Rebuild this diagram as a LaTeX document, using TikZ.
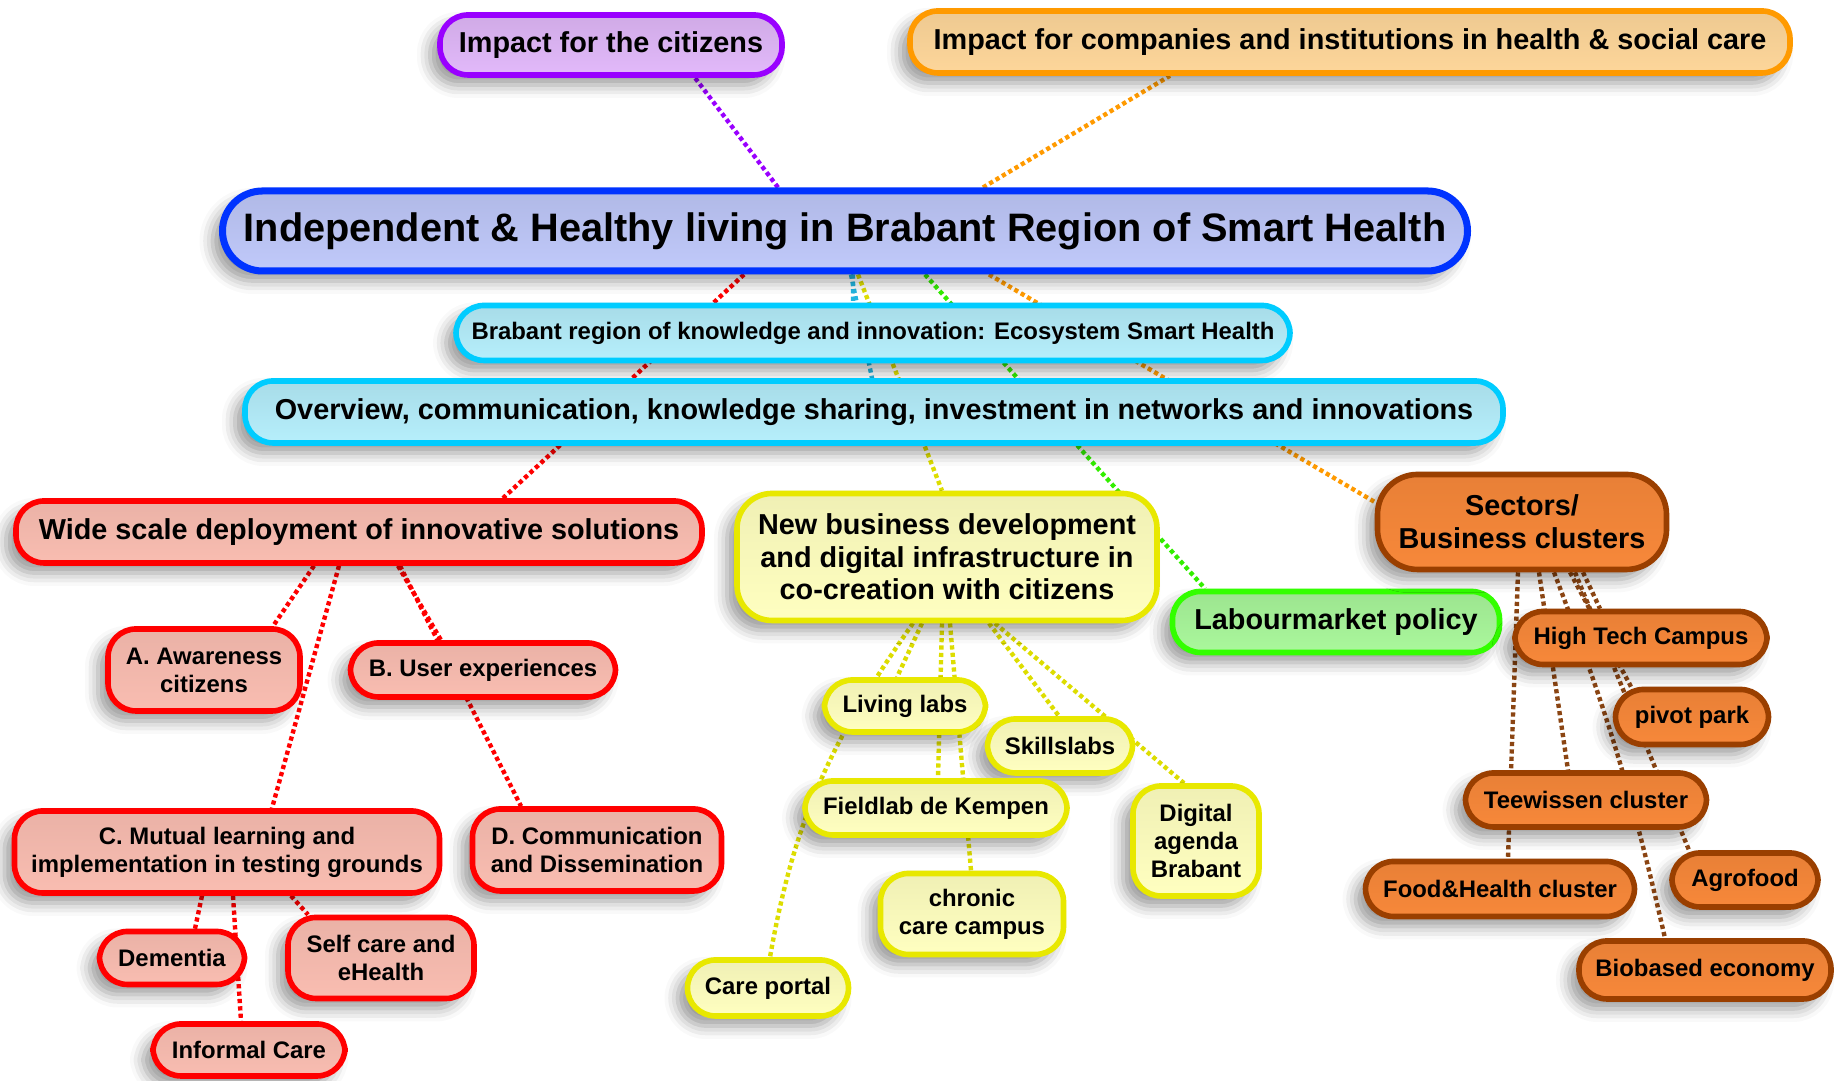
\documentclass[tikz,border=0pt]{standalone}
\usepackage{fontspec}
\setmainfont{Liberation Sans}
\usetikzlibrary{shadows.blur}

\definecolor{violetline}{HTML}{9900FF}
\definecolor{violetfill}{HTML}{E2B9FA}
\definecolor{amberline}{HTML}{FF9A00}
\definecolor{amberfill}{HTML}{FDD69A}
\definecolor{blueline}{HTML}{0033FF}
\definecolor{bluefill}{HTML}{C0C9FA}
\definecolor{cyanline}{HTML}{00CCFF}
\definecolor{cyanfill}{HTML}{B6EFFC}
\definecolor{cyandash}{HTML}{22B5E0}
\definecolor{redline}{HTML}{FF0000}
\definecolor{redfill}{HTML}{F9BDB1}
\definecolor{yellowline}{HTML}{E8E800}
\definecolor{yellowfill}{HTML}{FFFFC0}
\definecolor{yellowdash}{HTML}{DDDD00}
\definecolor{greenline}{HTML}{33FF00}
\definecolor{greenfill}{HTML}{AAF89C}
\definecolor{greendash}{HTML}{33EE00}
\definecolor{rustline}{HTML}{9A3F00}
\definecolor{rustfill}{HTML}{F7883A}
\definecolor{rustdash}{HTML}{8B4513}

\newcommand{\centralsize}{\fontsize{11.3}{13.5}\selectfont}
\newcommand{\mainsize}{\fontsize{8.2}{9.3}\selectfont}
\newcommand{\subsize}{\fontsize{6.8}{8}\selectfont}

\pgfdeclarelayer{background}
\pgfsetlayers{background,main}

\begin{document}
\begin{tikzpicture}[
    bubble/.style={draw, line width=1.6pt, rounded corners=0.28cm, align=center, inner sep=0pt,
        font=\bfseries\subsize,
        blur shadow={shadow xshift=-1mm, shadow yshift=-1mm, shadow blur radius=1.3mm, shadow opacity=40}},
    mainbubble/.style={bubble, font=\bfseries\mainsize},
    violetbox/.style={mainbubble, draw=violetline, top color=violetfill!92!black, bottom color=violetfill},
    amberbox/.style={mainbubble, draw=amberline, top color=amberfill!94!black, bottom color=amberfill},
    bluebox/.style={bubble, draw=blueline, top color=bluefill!92!black, bottom color=bluefill},
    cyanbox/.style={bubble, draw=cyanline, top color=cyanfill!92!black, bottom color=cyanfill},
    redbox/.style={bubble, draw=redline, top color=redfill!94!black, bottom color=redfill},
    yellowbox/.style={bubble, draw=yellowline, top color=yellowfill!94!black, bottom color=yellowfill},
    greenbox/.style={mainbubble, draw=greenline, top color=greenfill!92!black, bottom color=greenfill},
    rustbox/.style={bubble, draw=rustline, top color=rustfill!94!black, bottom color=rustfill},
    link/.style={line width=1.25pt, dash pattern=on 1.2pt off 0.9pt}
]
    \useasboundingbox (0,0) rectangle (18.35,10.81);

    \node[violetbox, minimum width=3.42cm, minimum height=0.6cm] (citizens) at (6.11,10.36) {Impact for the citizens};
    \node[amberbox, minimum width=8.8cm, minimum height=0.62cm] (companies) at (13.50,10.39) {Impact for companies and institutions in health \& social care};

    \node[bluebox, font=\bfseries\centralsize, line width=2pt, rounded corners=0.4cm, minimum width=12.45cm, minimum height=0.8cm] (central) at (8.45,8.50) {Independent \& Healthy living in Brabant Region of Smart Health};
    \node[cyanbox, minimum width=8.34cm, minimum height=0.55cm] (ecosystem) at (8.73,7.48) {Brabant region of knowledge and innovation: Ecosystem Smart Health};
    \node[cyanbox, font=\bfseries\mainsize, minimum width=12.58cm, minimum height=0.62cm] (overview) at (8.74,6.69) {Overview, communication, knowledge sharing, investment in networks and innovations};

    \node[redbox, font=\bfseries\mainsize, minimum width=6.86cm, minimum height=0.62cm] (wide) at (3.59,5.49) {Wide scale deployment of innovative solutions};
    \node[redbox, minimum width=1.92cm, minimum height=0.82cm] (awareness) at (2.04,4.11) {A. Awareness\\citizens};
    \node[redbox, minimum width=2.65cm, minimum height=0.54cm] (userexp) at (4.83,4.11) {B. User experiences};
    \node[redbox, minimum width=4.25cm, minimum height=0.82cm] (mutual) at (2.27,2.29) {C. Mutual learning and\\implementation in testing grounds};
    \node[redbox, minimum width=2.49cm, minimum height=0.82cm] (dissem) at (5.97,2.31) {D. Communication\\and Dissemination};
    \node[redbox, minimum width=1.45cm, minimum height=0.53cm] (dementia) at (1.72,1.23) {Dementia};
    \node[redbox, minimum width=1.86cm, minimum height=0.81cm] (selfcare) at (3.81,1.23) {Self care and\\eHealth};
    \node[redbox, minimum width=1.92cm, minimum height=0.52cm] (informal) at (2.49,0.31) {Informal Care};

    \node[yellowbox, font=\bfseries\mainsize, rounded corners=0.35cm, minimum width=4.2cm, minimum height=1.27cm] (newbiz) at (9.47,5.24) {New business development\\and digital infrastructure in\\co-creation with citizens};
    \node[yellowbox, minimum width=1.61cm, minimum height=0.52cm] (living) at (9.05,3.75) {Living labs};
    \node[yellowbox, minimum width=1.45cm, minimum height=0.54cm] (skills) at (10.60,3.35) {Skillslabs};
    \node[yellowbox, minimum width=2.62cm, minimum height=0.54cm] (fieldlab) at (9.36,2.73) {Fieldlab de Kempen};
    \node[yellowbox, minimum width=1.26cm, minimum height=1.10cm] (digital) at (11.96,2.40) {Digital\\agenda\\Brabant};
    \node[yellowbox, minimum width=1.83cm, minimum height=0.81cm] (chronic) at (9.72,1.67) {chronic\\care campus};
    \node[yellowbox, minimum width=1.61cm, minimum height=0.56cm] (careportal) at (7.68,0.93) {Care portal};

    \node[greenbox, minimum width=3.27cm, minimum height=0.61cm] (labour) at (13.36,4.59) {Labourmarket policy};

    \node[rustbox, font=\bfseries\mainsize, rounded corners=0.4cm, minimum width=2.89cm, minimum height=0.95cm] (sectors) at (15.22,5.59) {Sectors/\\Business clusters};
    \node[rustbox, minimum width=2.52cm, minimum height=0.53cm] (htc) at (16.41,4.43) {High Tech Campus};
    \node[rustbox, minimum width=1.53cm, minimum height=0.55cm] (pivot) at (16.92,3.64) {pivot park};
    \node[rustbox, minimum width=2.41cm, minimum height=0.54cm] (teewissen) at (15.86,2.81) {Teewissen cluster};
    \node[rustbox, minimum width=1.46cm, minimum height=0.54cm] (agrofood) at (17.45,2.01) {Agrofood};
    \node[rustbox, minimum width=2.69cm, minimum height=0.55cm] (foodhealth) at (15.00,1.92) {Food\&Health cluster};
    \node[rustbox, minimum width=2.52cm, minimum height=0.58cm] (biobased) at (17.05,1.11) {Biobased economy};

    \begin{pgfonlayer}{background}
        \draw[link, violetline] ([xshift=-0.67cm]central.north) -- ([xshift=0.84cm]citizens.south);
        \draw[link, amberline] ([xshift=1.38cm]central.north) -- ([xshift=-1.80cm]companies.south);
        \draw[link, redline] ([xshift=-1.01cm]central.south) -- ([xshift=1.44cm]wide.north);
        \draw[link, cyandash] ([xshift=0.08cm]central.south) -- ([xshift=-0.20cm]ecosystem.north);
        \draw[link, cyandash] ([xshift=0.06cm]central.south) -- ([xshift=-0.02cm]overview.north);
        \draw[link, yellowdash] ([xshift=0.13cm]central.south) -- ([xshift=-0.05cm]newbiz.north);
        \draw[link, greendash] ([xshift=0.80cm]central.south) -- ([xshift=-1.31cm]labour.north);
        \draw[link, amberline] ([xshift=1.44cm]central.south) -- ([yshift=0.2cm]sectors.west);

        \draw[link, redline] ([xshift=-0.45cm]wide.south) -- ([xshift=0.69cm]awareness.north);
        \draw[link, redline] ([xshift=-0.20cm]wide.south) -- ([xshift=0.45cm]mutual.north);
        \draw[link, redline] ([xshift=0.39cm]wide.south) -- ([xshift=-0.42cm]userexp.north);
        \draw[link, redline] ([xshift=0.41cm]wide.south) -- ([xshift=-0.76cm]dissem.north);
        \draw[link, redline] ([xshift=-0.25cm]mutual.south) -- ([xshift=0.23cm]dementia.north);
        \draw[link, redline] ([xshift=0.06cm]mutual.south) -- ([xshift=-0.08cm]informal.north);
        \draw[link, redline] ([xshift=0.64cm]mutual.south) -- ([xshift=-0.73cm]selfcare.north);

        \draw[link, yellowdash] ([xshift=-0.25cm]newbiz.south) -- ([xshift=-0.08cm]living.north);
        \draw[link, yellowdash] ([xshift=-0.05cm]newbiz.south) -- ([xshift=0.02cm]fieldlab.north);
        \draw[link, yellowdash] ([xshift=0.03cm]newbiz.south) -- ([xshift=-0.01cm]chronic.north);
        \draw[link, yellowdash] ([xshift=-0.34cm]newbiz.south) to[out=-125, in=80] ([xshift=0.02cm]careportal.north);
        \draw[link, yellowdash] ([xshift=0.42cm]newbiz.south) -- ([xshift=-0.01cm]skills.north);
        \draw[link, yellowdash] ([xshift=0.48cm]newbiz.south) -- ([xshift=-0.12cm]digital.north);

        \draw[link, rustdash] ([xshift=-0.04cm]sectors.south) -- ([xshift=0.08cm]foodhealth.north);
        \draw[link, rustdash] ([xshift=0.61cm]sectors.south) -- ([xshift=-0.41cm]htc.north);
        \draw[link, rustdash] ([xshift=0.17cm]sectors.south) -- ([xshift=-0.18cm]teewissen.north);
        \draw[link, rustdash] ([xshift=0.32cm]sectors.south) to[bend left=4] ([xshift=-0.40cm]biobased.north);
        \draw[link, rustdash] ([xshift=0.48cm]sectors.south) -- ([xshift=-0.61cm]pivot.north);
        \draw[link, rustdash] ([xshift=0.53cm]sectors.south) -- ([xshift=-0.56cm]agrofood.north);
    \end{pgfonlayer}
\end{tikzpicture}
\end{document}
